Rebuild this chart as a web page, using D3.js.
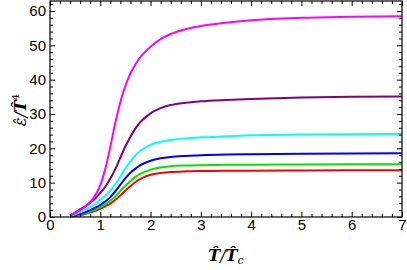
<!DOCTYPE html>
<html>
<head>
<meta charset="utf-8">
<script src="https://cdn.jsdelivr.net/npm/d3@7"></script>
<style>
  body { margin: 0; background: #fff; }
  .axis text { font-family: "Liberation Sans", Arial, sans-serif; font-size: 15px; fill: #000; }
  .axis path, .axis line { stroke: #000; }
</style>
</head>
<body>
<svg id="chart" width="407" height="270"></svg>
<script>
// temperature grid T/Tc
const tVals = [0.4, 0.5, 0.6, 0.7, 0.8, 0.9, 1.0, 1.1, 1.2, 1.3, 1.4, 1.5, 1.6, 1.7, 1.8,
               2.0, 2.2, 2.4, 2.7, 3.0, 3.5, 4.0, 5.0, 6.0, 7.0];

// energy density eps/T^4, one array per curve
const magenta = [0.6, 1.2, 2.0, 3.0, 4.3, 6.3, 9.3, 14.0, 20.5, 27.5, 33.5, 38.3, 41.8, 44.5, 46.6,
                 49.6, 51.8, 53.3, 54.7, 55.6, 56.6, 57.3, 58.0, 58.3, 58.5];
const purple  = [0.4, 1.3, 2.2, 3.1, 4.2, 5.4, 7.0, 8.8, 11.2, 14.0, 17.3, 20.6, 23.4, 25.8, 27.7,
                 30.2, 31.7, 32.6, 33.3, 33.7, 34.1, 34.4, 34.8, 35.0, 35.1];
const cyan    = [0.3, 0.8, 1.4, 2.1, 2.9, 3.8, 5.0, 6.2, 7.7, 9.6, 11.8, 14.2, 16.2, 18.0, 19.3,
                 21.0, 21.9, 22.4, 22.9, 23.2, 23.5, 23.8, 24.0, 24.1, 24.2];
const blue    = [0.2, 0.5, 0.9, 1.4, 2.0, 2.7, 3.5, 4.5, 5.8, 7.5, 9.4, 11.3, 12.9, 14.1, 15.1,
                 16.4, 17.1, 17.5, 17.8, 18.0, 18.2, 18.3, 18.45, 18.5, 18.55];
const green   = [0.15, 0.4, 0.7, 1.1, 1.6, 2.2, 2.9, 3.7, 4.7, 6.0, 7.6, 9.1, 10.5, 11.7, 12.6,
                 13.8, 14.4, 14.8, 15.0, 15.1, 15.2, 15.25, 15.3, 15.35, 15.4];
const red     = [0.1, 0.3, 0.55, 0.9, 1.3, 1.8, 2.4, 3.1, 3.9, 5.0, 6.3, 7.7, 9.0, 10.2, 11.1,
                 12.3, 12.8, 13.1, 13.3, 13.4, 13.5, 13.5, 13.55, 13.6, 13.6];

const seriesList = [
  {vals: red, color: "#ff0000"},
  {vals: green, color: "#00e600"},
  {vals: blue, color: "#0000ff"},
  {vals: cyan, color: "#00ffff"},
  {vals: purple, color: "#800080"},
  {vals: magenta, color: "#ff00ff"}
];

const xMajor = [0, 1, 2, 3, 4, 5, 6, 7];
const yMajor = [0, 10, 20, 30, 40, 50, 60];

const svg = d3.select("#chart");
const mLeft = 50, mRight = 402, mTop = 1, mBottom = 217;

const xScale = d3.scaleLinear().domain([0, 7]).range([mLeft, mRight]);
const yScale = d3.scaleLinear().domain([0, 60]).range([mBottom, 11]);

const xMinor = d3.range(0, 7.001, 0.2).filter(v => Math.abs(v - Math.round(v)) > 1e-6);
const yMinor = d3.range(0, yScale.invert(mTop), 2).filter(v => v % 10 !== 0);

// curves
const line = d3.line()
  .curve(d3.curveMonotoneX)
  .x((d, i) => xScale(tVals[i]))
  .y(d => yScale(d));

svg.append("g")
  .selectAll("path")
  .data(seriesList)
  .enter().append("path")
    .attr("d", d => line(d.vals))
    .attr("fill", "none")
    .attr("stroke", d => d.color)
    .attr("stroke-width", 2);

// frame
svg.append("rect")
  .attr("x", mLeft).attr("y", mTop)
  .attr("width", mRight - mLeft).attr("height", mBottom - mTop)
  .attr("fill", "none").attr("stroke", "#000").attr("stroke-width", 1.2);

// axes, ticks inward
function addAxis(axisFn, scale, vals, size, tf, tr, pad) {
  const g = svg.append("g")
    .attr("class", "axis")
    .attr("transform", tr)
    .call(axisFn(scale).tickValues(vals).tickSize(-size).tickPadding(pad).tickFormat(tf));
  g.select(".domain").remove();
  return g;
}
addAxis(d3.axisBottom, xScale, xMajor, 5, d3.format("d"), `translate(0,${mBottom})`, 2);
addAxis(d3.axisBottom, xScale, xMinor, 3, "", `translate(0,${mBottom})`, 2);
addAxis(d3.axisTop, xScale, xMajor, 5, "", `translate(0,${mTop})`, 3);
addAxis(d3.axisTop, xScale, xMinor, 3, "", `translate(0,${mTop})`, 3);
addAxis(d3.axisLeft, yScale, yMajor, 5, d3.format("d"), `translate(${mLeft},0)`, 4);
addAxis(d3.axisLeft, yScale, yMinor, 3, "", `translate(${mLeft},0)`, 4);
addAxis(d3.axisRight, yScale, yMajor, 5, "", `translate(${mRight},0)`, 4);
addAxis(d3.axisRight, yScale, yMinor, 3, "", `translate(${mRight},0)`, 4);

// axis titles
const xt = svg.append("text")
  .attr("x", 226).attr("y", 261)
  .attr("text-anchor", "middle")
  .style("font-family", "'DejaVu Serif', serif")
  .style("font-size", "16px");
xt.append("tspan").style("font-weight", "bold").style("font-style", "italic").text("T\u0302");
xt.append("tspan").style("font-style", "italic").text("/");
xt.append("tspan").style("font-weight", "bold").style("font-style", "italic").text("T\u0302");
xt.append("tspan").style("font-style", "italic").style("font-size", "11px").attr("dy", 3).text("c");

const yt = svg.append("text")
  .attr("transform", "translate(26,110) rotate(-90)")
  .attr("text-anchor", "middle")
  .style("font-family", "'DejaVu Serif', serif")
  .style("font-size", "16px");
yt.append("tspan").style("font-style", "italic").text("\u03b5\u0302/");
yt.append("tspan").style("font-weight", "bold").style("font-style", "italic").text("T\u0302");
yt.append("tspan").style("font-size", "10px").attr("dy", -7).text("4");
</script>
</body>
</html>
